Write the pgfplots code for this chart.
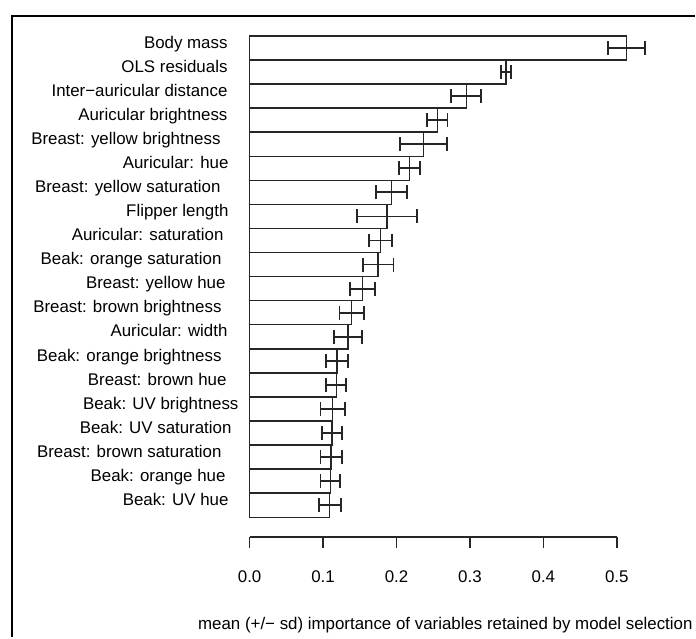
\documentclass[border=0pt]{standalone}
\usepackage{fontspec}
\setmainfont{Liberation Sans}
\usepackage{pgfplots}
\usepackage{pgfplotstable}
\pgfplotsset{compat=1.18}

% idx = bar position from the top, imp = mean importance, sd = standard deviation
\pgfplotstableread{
idx imp    sd
0   0.5135 0.0250
1   0.3490 0.0065
2   0.2950 0.0205
3   0.2555 0.0140
4   0.2370 0.0320
5   0.2180 0.0145
6   0.1930 0.0210
7   0.1870 0.0410
8   0.1780 0.0160
9   0.1750 0.0210
10  0.1540 0.0170
11  0.1390 0.0165
12  0.1340 0.0190
13  0.1190 0.0145
14  0.1180 0.0135
15  0.1130 0.0165
16  0.1120 0.0140
17  0.1110 0.0145
18  0.1100 0.0135
19  0.1090 0.0150
}\imptable

\begin{document}
\begin{tikzpicture}[font=\fontsize{16.9}{20}\selectfont]
% bars and error bars, 1pt = 1 pixel of the reference
\begin{axis}[
    at={(0pt,0pt)}, anchor=south west,
    scale only axis, width=696pt, height=638pt,
    xmin=-0.33995, xmax=0.60647,
    y dir=reverse, ymin=-1.994, ymax=24.479,
    axis line style={draw=none},
    xtick=\empty,
    ytick={0,...,19},
    yticklabels={
      {Body mass},
      {OLS residuals},
      {Inter−auricular distance},
      {Auricular brightness},
      {Breast: yellow brightness\hspace*{7pt}},
      {Auricular: hue\hspace*{-1pt}},
      {Breast: yellow saturation\hspace*{7pt}},
      {Flipper length\hspace*{-1pt}},
      {Auricular: saturation\hspace*{4pt}},
      {Beak: orange saturation\hspace*{6pt}},
      {Breast: yellow hue\hspace*{2pt}},
      {Breast: brown brightness\hspace*{6pt}},
      {Auricular: width},
      {Beak: orange brightness\hspace*{6pt}},
      {Breast: brown hue\hspace*{1pt}},
      {Beak: UV brightness\hspace*{-11pt}},
      {Beak: UV saturation\hspace*{-4pt}},
      {Breast: brown saturation\hspace*{6pt}},
      {Beak: orange hue\hspace*{2pt}},
      {Beak: UV hue\hspace*{-1pt}},
    },
    major tick length=0pt,
    tick style={draw=none},
    yticklabel style={anchor=east, inner sep=0pt, xshift=228pt, yshift=2.4pt,
      text height=0.73em, text depth=0.21em},
    xbar, bar width=24.1pt, bar shift=0pt,
]
\addplot[
    draw=black!85, fill=white, line width=1.5pt,
    error bars/.cd,
      x dir=both, x explicit,
      error mark=|,
      error bar style={line width=1.8pt, black!85},
      error mark options={line width=1.8pt, mark size=7pt, black!85},
] table[x=imp, y=idx, x error=sd] {\imptable};
\end{axis}

% the x axis, drawn from 0 to 0.5 only
\begin{axis}[
    at={(250pt,100pt)}, anchor=south west,
    scale only axis, width=367.7pt, height=10pt,
    xmin=0, xmax=0.5, ymin=0, ymax=1,
    axis x line*=bottom, axis y line=none,
    x axis line style={-, line width=1.5pt, black!85},
    xtick={0,0.1,0.2,0.3,0.4,0.5},
    tick align=outside, major tick length=11pt,
    tick style={line width=1.5pt, black!85},
    /pgf/number format/assume math mode=true,
    xticklabel={\pgfmathprintnumber[fixed, fixed zerofill, precision=1]{\tick}},
    xticklabel style={anchor=north, inner sep=0pt, yshift=-22pt},
    xlabel={mean (+/− sd) importance of variables retained by model selection},
    xlabel style={at={(axis description cs:0.533,-8.8)}, anchor=center, inner sep=0pt},
]
\end{axis}

% frame of the figure, cut by the right and bottom edges
\draw[line width=2pt] (12pt,0pt) -- (12pt,622pt) -- (696pt,622pt);
\end{tikzpicture}
\end{document}
